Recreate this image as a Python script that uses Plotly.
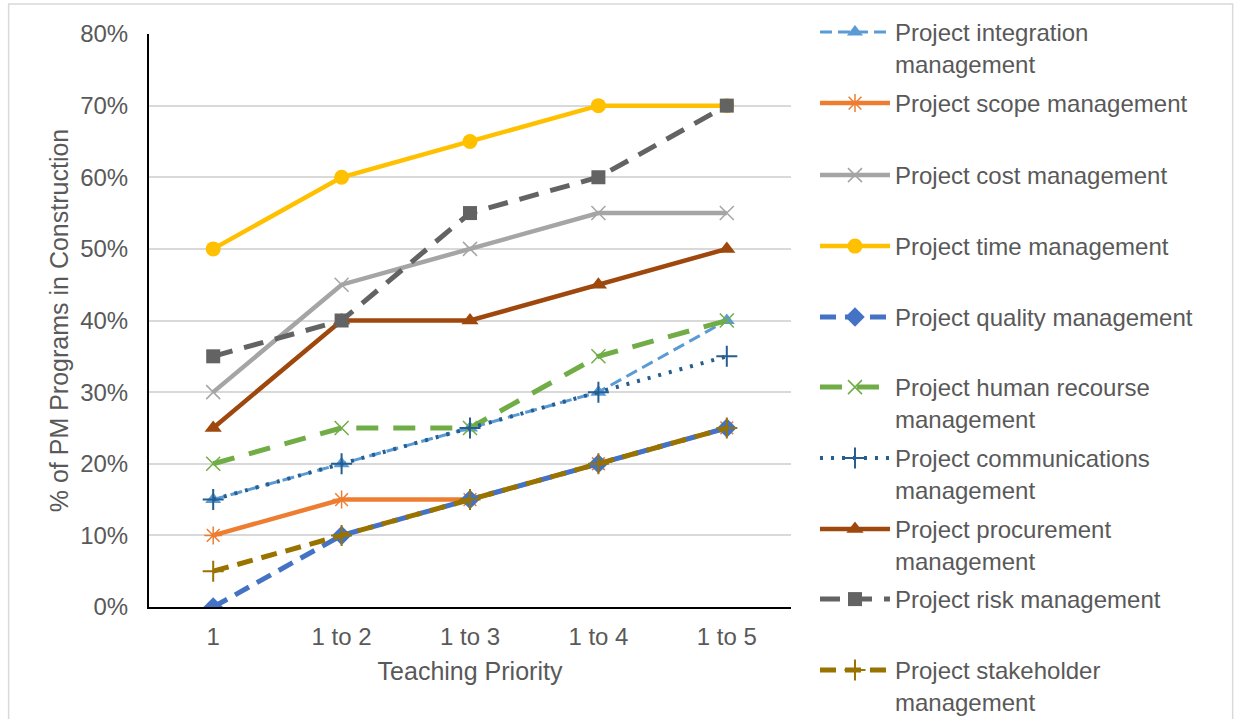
import plotly.graph_objects as go

# Teaching priority categories (x axis)
priorities = ["1", "1 to 2", "1 to 3", "1 to 4", "1 to 5"]

# Share of PM programs in construction (fraction) per knowledge area
integration = [0.15, 0.20, 0.25, 0.30, 0.40]
scope = [0.10, 0.15, 0.15, 0.20, 0.25]
cost = [0.30, 0.45, 0.50, 0.55, 0.55]
time = [0.50, 0.60, 0.65, 0.70, 0.70]
quality = [0.00, 0.10, 0.15, 0.20, 0.25]
human = [0.20, 0.25, 0.25, 0.35, 0.40]
communications = [0.15, 0.20, 0.25, 0.30, 0.35]
procurement = [0.25, 0.40, 0.40, 0.45, 0.50]
risk = [0.35, 0.40, 0.55, 0.60, 0.70]
stakeholder = [0.05, 0.10, 0.15, 0.20, 0.25]

y_ticks = [0, 0.1, 0.2, 0.3, 0.4, 0.5, 0.6, 0.7, 0.8]

TEXT = "#595959"
FONT = "Liberation Sans, Arial, sans-serif"

series = [
    ("Project integration<br>management", integration, "#5B9BD5", "12px,6px", 3,
     dict(symbol="triangle-up", size=14)),
    ("Project scope management", scope, "#ED7D31", "solid", 4.5,
     dict(symbol="asterisk-open", size=15, line=dict(width=1.5, color="#ED7D31"))),
    ("Project cost management", cost, "#A5A5A5", "solid", 4.5,
     dict(symbol="x-thin-open", size=14, line=dict(width=1.5, color="#A5A5A5"))),
    ("Project time management", time, "#FFC000", "solid", 4.5,
     dict(symbol="circle", size=15)),
    ("Project quality management", quality, "#4472C4", "16px,9px", 5,
     dict(symbol="diamond", size=15)),
    ("Project human recourse<br>management", human, "#70AD47", "22px,15px", 5,
     dict(symbol="x-thin-open", size=14, line=dict(width=1.5, color="#70AD47"))),
    ("Project communications<br>management", communications, "#255E91", "3px,8px", 4,
     dict(symbol="cross-thin-open", size=15, line=dict(width=2, color="#255E91"))),
    ("Project procurement<br>management", procurement, "#9E480E", "solid", 4.5,
     dict(symbol="triangle-up", size=15)),
    ("Project risk management", risk, "#636363", "20px,12px", 5,
     dict(symbol="square", size=14)),
    ("Project stakeholder<br>management", stakeholder, "#997300", "16px,9px", 5,
     dict(symbol="cross-thin-open", size=15, line=dict(width=2, color="#997300"))),
]

# plot area in pixels (for placing the legends)
L, R, T, B = 148.5, 791.0, 34.0, 607.0
W, H = R - L, B - T

def px_x(x):
    return (x - L) / W

def px_y(y):
    return (B - y) / H

# first-line centre of each legend entry
legend_rows = [33, 104, 176, 247, 318, 388, 459, 530, 600, 671]

fig = go.Figure()
layout_legends = {}
for i, (name, vals, color, dash, width, marker) in enumerate(series):
    key = "legend" if i == 0 else f"legend{i + 1}"
    m = dict(color=color)
    m.update(marker)
    fig.add_trace(go.Scatter(
        x=priorities, y=vals, name=name, mode="lines+markers",
        line=dict(color=color, width=width, dash=dash),
        marker=m, legend=key,
    ))
    layout_legends[key] = dict(
        x=px_x(815), xanchor="left",
        y=px_y(legend_rows[i] - 23), yanchor="top",
        valign="top", bgcolor="rgba(0,0,0,0)",
        font=dict(family=FONT, size=24, color=TEXT),
        itemwidth=70,
    )

fig.update_layout(
    width=1235, height=719,
    margin=dict(l=L, r=1235 - R, t=T, b=719 - B, autoexpand=False),
    paper_bgcolor="white", plot_bgcolor="white",
    font=dict(family=FONT, size=24, color=TEXT),
    showlegend=True,
    xaxis=dict(
        type="category", range=[-0.5, 4.5],
        showgrid=False, showline=True, linecolor="#000000", linewidth=2,
        ticks="", tickfont=dict(size=24, color=TEXT), ticklabelstandoff=7,
        title=dict(text="Teaching Priority", font=dict(size=25, color=TEXT), standoff=14),
        fixedrange=True,
    ),
    yaxis=dict(
        range=[0, 0.8], tickvals=y_ticks, tickformat=".0%",
        showgrid=True, gridcolor="#D9D9D9", gridwidth=1.5,
        showline=True, linecolor="#000000", linewidth=2, zeroline=False,
        ticks="", tickfont=dict(size=24, color=TEXT), ticklabelstandoff=14,
        title=dict(text="% of PM Programs in Construction", font=dict(size=25, color=TEXT), standoff=4),
        fixedrange=True,
    ),
    shapes=[dict(
        type="rect", xref="paper", yref="paper",
        x0=px_x(8), x1=px_x(1233), y0=px_y(725), y1=px_y(4),
        line=dict(color="#D9D9D9", width=1.5), fillcolor="rgba(0,0,0,0)", layer="below",
    )],
    **layout_legends,
)

fig.write_html("out.html")
